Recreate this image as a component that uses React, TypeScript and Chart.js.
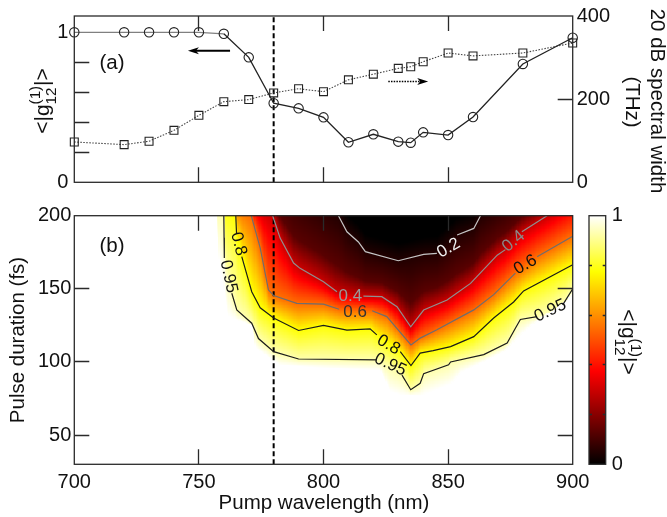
import React, { useEffect, useRef } from "react";
import { Chart, registerables } from "chart.js";

Chart.register(...registerables);

// ---------- Panel (a) ----------
const pumpNm = [700, 720, 730, 740, 750, 760, 770, 780, 790, 800, 810, 820, 830, 835, 840, 850, 860, 880, 900];
const coherence = [1, 1, 1, 1, 1, 0.99, 0.833, 0.527, 0.493, 0.433, 0.267, 0.32, 0.271, 0.264, 0.333, 0.315, 0.435, 0.789, 0.964];
const widthTHz = [97, 90.6, 98.8, 125, 161, 194, 199, 215, 225, 218, 246.5, 260, 274, 278, 290, 311, 304, 311, 335];

// ---------- Panel (b) contours: wavelength / duration, null = label gap ----------
const c020W = [806, 809.4, 814, 816.8, 830, 840.2, 845.5, null, 853.6, 860.3, 863];
const c020D = [200, 189, 182, 175.4, 169.2, 173.5, 174.2, null, 186.8, 191.3, 200];
const c040W = [779.6, 782.6, 788, 790.6, 800, 805.4, null, 816, 823.4, 829.5, 835, 840.2, 849.6, 859, 869.7, 873, null, 879.6, 889.7];
const c040D = [200, 184.7, 167.6, 164, 154.9, 148, null, 145, 144.6, 137.8, 124, 135.5, 142.3, 153.7, 173, 176.8, null, 189, 200];
const c060W = [771, 774.6, 777.9, 780, 789.3, 800, 806.3, null, 819.5, 825.4, 835.1, 838.8, 845.5, 860.3, 868.3, 877, null, 885.7, 900];
const c060D = [200, 178, 149.3, 145.4, 140, 139.5, 136, null, 135, 131, 111.6, 116.3, 122, 135.6, 146, 160.7, null, 172, 186];
const c080W = [764.8, 765.1, null, 767.2, 771.2, 774.6, 780, 790, 800, 809.4, 818.7, 821.4, null, 830.8, 835.1, 838.8, 844, 851, 860.3, 868.3, 876.3, 880.3, 900];
const c080D = [200, 188, null, 172, 148, 137, 130, 121.5, 125, 121.7, 122.6, 118.5, null, 107, 97.5, 106, 107.7, 110.5, 117.3, 130, 141, 148.6, 166.4];
const c095W = [760, 760.1, 760.2, null, 763.2, 765.2, 771.2, 773.9, 780, 790, 821.4, null, 831.5, 835, 838.8, 840.2, 850.2, 851, 864.3, 873.7, 877, 879, 885.7, null, 896, 900];
const c095D = [200, 185, 171, null, 147, 135.6, 126.5, 116, 107, 102, 101.4, null, 91, 81, 85.4, 92, 98, 100, 105, 113, 123, 129, 131, null, 139, 150];
const edgeW = [757, 758, 761.7, 771.6, 772.6, 782.6, 802.7, 822.7, 826.8, 830.8, 838.8, 851, 855, 872, 883, 900];
const edgeD = [200, 170, 131, 125, 110, 98, 96, 94.5, 80, 77.5, 77, 85, 93, 107, 125, 146];

const contourNames = ["0.2", "0.4", "0.6", "0.8", "0.95"];
const contourColors = ["#c4c4c4", "#8f8f8f", "#6e6e6e", "#1c1c1c", "#1c1c1c"];
const fillLevels = [1, 0.93, 0.78, 0.55, 0.3, 0.13, 0.05, 0];

const colorPos = [0, 0.375, 0.775, 1];
const colorR = [0, 255, 255, 255];
const colorG = [0, 0, 255, 255];
const colorB = [0, 0, 0, 255];

const barTicks = [0, 0.2, 0.4, 0.6, 0.8, 1];
const wavelengthMarks = [750, 800, 850];
const durationTicks = [50, 100, 150, 200];
const durationMarks = [50, 100, 150];
const widthMarks = [200];
const coherenceMarks = [0.2, 0.4, 0.6, 0.8];

const FONT = '"Liberation Sans"';
const INK = "#2a2a2a";

Chart.defaults.font.family = FONT;

const zip = (w: any[], d: any[]) => w.map((v, i) => ({ x: v ?? NaN, y: d[i] ?? NaN }));

function contourAt(W: any[], D: any[], w: number) {
  const xs: number[] = [];
  const ys: number[] = [];
  W.forEach((v, i) => {
    if (v !== null) {
      xs.push(v);
      ys.push(D[i]);
    }
  });
  if (w <= xs[0]) return ys[0] + (xs[0] - w) * 1.2;
  const n = xs.length - 1;
  if (w >= xs[n]) return ys[n] + (w - xs[n]) * 1.2;
  for (let i = 0; i < n; i++) {
    if (w <= xs[i + 1]) {
      const t = (w - xs[i]) / (xs[i + 1] - xs[i]);
      return ys[i] + t * (ys[i + 1] - ys[i]);
    }
  }
  return ys[n];
}

function colorOf(v: number) {
  let i = 0;
  while (i < colorPos.length - 2 && v > colorPos[i + 1]) i++;
  const t = Math.min(1, Math.max(0, (v - colorPos[i]) / (colorPos[i + 1] - colorPos[i])));
  const m = (a: number[]) => Math.round(a[i] + t * (a[i + 1] - a[i]));
  return `rgb(${m(colorR)},${m(colorG)},${m(colorB)})`;
}

const heatPlugin = {
  id: "heat",
  beforeDatasetsDraw(chart: any) {
    const { ctx, scales } = chart;
    const xs = scales.x;
    const ys = scales.y;
    ctx.save();
    for (let w = 700; w < 900; w += 0.5) {
      const px0 = Math.floor(xs.getPixelForValue(w));
      const px1 = Math.ceil(xs.getPixelForValue(w + 0.5));
      const d40 = contourAt(c040W, c040D, w);
      const d20 = contourAt(c020W, c020D, w);
      const lv = [
        contourAt(edgeW, edgeD, w),
        contourAt(c095W, c095D, w),
        contourAt(c080W, c080D, w),
        contourAt(c060W, c060D, w),
        d40,
        d40 + 0.35 * (d20 - d40),
        d20,
        d20 + 12,
      ];
      for (let k = 1; k < lv.length; k++) lv[k] = Math.max(lv[k], lv[k - 1] + 0.01);
      const last = lv.length - 1;
      for (let d = 30; d < 200; d += 0.5) {
        const dm = d + 0.25;
        let v = 1;
        if (dm >= lv[last]) v = 0;
        else if (dm > lv[0]) {
          let k = 0;
          while (dm > lv[k + 1]) k++;
          v = fillLevels[k] + ((dm - lv[k]) / (lv[k + 1] - lv[k])) * (fillLevels[k + 1] - fillLevels[k]);
        }
        if (v >= 0.999) continue;
        const py1 = Math.ceil(ys.getPixelForValue(d));
        const py0 = Math.floor(ys.getPixelForValue(d + 0.5));
        ctx.fillStyle = colorOf(v);
        ctx.fillRect(px0, py0, px1 - px0, py1 - py0);
      }
    }
    ctx.restore();
  },
};

const snap = (v: number) => Math.round(v - 0.5) + 0.5;

function frame(chart: any, opts: { xScale?: any; xVals?: number[]; left?: any; leftVals?: number[]; right?: any; rightVals?: number[]; len?: number }) {
  const { ctx, chartArea: a } = chart;
  const len = opts.len ?? 15;
  ctx.save();
  ctx.strokeStyle = INK;
  ctx.lineWidth = 1.3;
  ctx.strokeRect(a.left, a.top, a.right - a.left, a.bottom - a.top);
  ctx.beginPath();
  for (const v of opts.xVals ?? []) {
    const x = snap(opts.xScale.getPixelForValue(v));
    ctx.moveTo(x, a.bottom);
    ctx.lineTo(x, a.bottom - len);
    ctx.moveTo(x, a.top);
    ctx.lineTo(x, a.top + len);
  }
  for (const v of opts.leftVals ?? []) {
    const y = snap(opts.left.getPixelForValue(v));
    ctx.moveTo(a.left, y);
    ctx.lineTo(a.left + len, y);
  }
  for (const v of opts.rightVals ?? []) {
    const y = snap(opts.right.getPixelForValue(v));
    ctx.moveTo(a.right, y);
    ctx.lineTo(a.right - len, y);
  }
  ctx.stroke();
  ctx.restore();
}

function text(ctx: any, s: string, x: number, y: number, size: number, rot = 0, color = "#111") {
  ctx.save();
  ctx.translate(x, y);
  ctx.rotate((rot * Math.PI) / 180);
  ctx.font = `${size}px ${FONT}`;
  ctx.fillStyle = color;
  ctx.textAlign = "center";
  ctx.textBaseline = "middle";
  ctx.fillText(s, 0, 0);
  ctx.restore();
}

function g12(ctx: any, x: number, y: number, rot: number, size: number) {
  ctx.save();
  ctx.translate(x, y);
  ctx.rotate((rot * Math.PI) / 180);
  ctx.fillStyle = "#111";
  ctx.textBaseline = "alphabetic";
  ctx.textAlign = "left";
  const small = size * 0.72;
  ctx.font = `${size}px ${FONT}`;
  const a = ctx.measureText("<|g").width;
  const c = ctx.measureText("|>").width;
  ctx.font = `${small}px ${FONT}`;
  const b = Math.max(ctx.measureText("12").width, ctx.measureText("(1)").width);
  let cx = -(a + b + c) / 2;
  ctx.font = `${size}px ${FONT}`;
  ctx.fillText("<|g", cx, 0);
  cx += a;
  ctx.font = `${small}px ${FONT}`;
  ctx.fillText("(1)", cx, -size * 0.42);
  ctx.fillText("12", cx, size * 0.32);
  cx += b;
  ctx.font = `${size}px ${FONT}`;
  ctx.fillText("|>", cx, 0);
  ctx.restore();
}

function arrow(ctx: any, x0: number, x1: number, y: number, dashed: boolean) {
  const dir = Math.sign(x1 - x0);
  ctx.save();
  ctx.strokeStyle = "#000";
  ctx.fillStyle = "#000";
  ctx.lineWidth = dashed ? 1.6 : 1.8;
  if (dashed) ctx.setLineDash([1.5, 1.2]);
  ctx.beginPath();
  ctx.moveTo(x0, y);
  ctx.lineTo(x1 - dir * 6, y);
  ctx.stroke();
  ctx.setLineDash([]);
  ctx.beginPath();
  ctx.moveTo(x1, y);
  ctx.lineTo(x1 - dir * 11, y - 3.6);
  ctx.lineTo(x1 - dir * 8, y);
  ctx.lineTo(x1 - dir * 11, y + 3.6);
  ctx.closePath();
  ctx.fill();
  ctx.restore();
}

const topOverlay = {
  id: "topOverlay",
  afterDatasetsDraw(chart: any) {
    const { ctx, scales } = chart;
    frame(chart, { xScale: scales.x, xVals: wavelengthMarks, left: scales.yL, leftVals: coherenceMarks, right: scales.yR, rightVals: widthMarks });
    arrow(ctx, scales.x.getPixelForValue(762.5), scales.x.getPixelForValue(745.6), scales.yL.getPixelForValue(0.877), false);
    arrow(ctx, scales.x.getPixelForValue(826), scales.x.getPixelForValue(842), scales.yR.getPixelForValue(242.4), true);
    text(ctx, "(a)", 112, 63, 20.5);
    g12(ctx, 49, 101, -90, 21);
    text(ctx, "20 dB spectral width", 657, 101, 20.5, 90);
    text(ctx, "(THz)", 632, 102, 20.5, 90);
  },
};

const labelWs = [850.2, 810.8, 876.3, 812.7, 881, 765.9, 826.1, 761.9, 826.8, 891];
const labelDs = [177.9, 144.7, 182.4, 134, 166.4, 180.6, 111.6, 158.4, 98, 135];
const labelAngles = [-30, 0, -40, 0, -30, 75, 30, 78, 25, -25];
const labelTexts = ["0.2", "0.4", "0.4", "0.6", "0.6", "0.8", "0.8", "0.95", "0.95", "0.95"];
const labelInks = ["#f0f0f0", "#9a9a9a", "#8a8a8a", "#333", "#111", "#111", "#111", "#111", "#111", "#111"];

const bottomOverlay = {
  id: "bottomOverlay",
  afterDatasetsDraw(chart: any) {
    const { ctx, scales } = chart;
    frame(chart, { xScale: scales.x, xVals: wavelengthMarks, left: scales.y, leftVals: durationMarks, right: scales.y, rightVals: durationMarks });
    labelTexts.forEach((t, i) => {
      text(ctx, t, scales.x.getPixelForValue(labelWs[i]), scales.y.getPixelForValue(labelDs[i]), 17, labelAngles[i], labelInks[i]);
    });
    text(ctx, "(b)", 112, 246, 20.5);
    text(ctx, "Pulse duration (fs)", 18, 340, 20.5, -90);
    text(ctx, "Pump wavelength (nm)", 324, 503, 20.5);
  },
};

const barOverlay = {
  id: "barOverlay",
  beforeDatasetsDraw(chart: any) {
    const { ctx, chartArea: a, scales } = chart;
    const g = ctx.createLinearGradient(0, scales.y.getPixelForValue(0), 0, scales.y.getPixelForValue(1));
    colorPos.forEach((p) => g.addColorStop(p, colorOf(p)));
    ctx.fillStyle = g;
    ctx.fillRect(a.left, a.top, a.right - a.left, a.bottom - a.top);
  },
  afterDatasetsDraw(chart: any) {
    const { ctx, scales } = chart;
    frame(chart, { left: scales.y, leftVals: coherenceMarks, right: scales.y, rightVals: coherenceMarks, len: 3 });
    g12(ctx, 622, 342, 90, 21);
  },
};

function axisFit(size: number, horizontal: boolean) {
  return (s: any) => {
    if (horizontal) s.height = size;
    else {
      s.width = size;
      s.paddingTop = 0;
      s.paddingBottom = 0;
    }
  };
}

const tickFont = { size: 20 };

export default function App() {
  const topRef = useRef<HTMLCanvasElement>(null);
  const botRef = useRef<HTMLCanvasElement>(null);
  const barRef = useRef<HTMLCanvasElement>(null);

  useEffect(() => {
    const hidden = { grid: { display: false, drawTicks: false }, border: { display: false } };
    const top = new Chart(topRef.current as any, {
      type: "scatter",
      data: {
        datasets: [
          {
            data: zip(pumpNm, coherence),
            yAxisID: "yL",
            showLine: true,
            borderColor: "#222",
            borderWidth: 1.3,
            pointStyle: "circle",
            pointRadius: 4.7,
            pointBackgroundColor: "transparent",
            pointBorderColor: "#222",
            pointBorderWidth: 1.1,
            clip: false,
            segment: { borderColor: (c: any) => (c.p0.parsed.x < 760 ? "#808080" : "#222") },
          },
          {
            data: zip(pumpNm, widthTHz),
            yAxisID: "yR",
            showLine: true,
            borderColor: "#444",
            borderWidth: 1.1,
            borderDash: [1.5, 1.5],
            pointStyle: "rect",
            pointRadius: 5.6,
            pointBackgroundColor: "transparent",
            pointBorderColor: "#222",
            pointBorderWidth: 1.1,
            clip: false,
          },
          {
            data: [{ x: 780, y: 0 }, { x: 780, y: 1.1087 }],
            yAxisID: "yL",
            showLine: true,
            borderColor: "#000",
            borderWidth: 2,
            borderDash: [5, 3],
            pointRadius: 0,
          },
        ],
      },
      options: {
        responsive: false,
        animation: false,
        layout: { padding: { top: 16 } },
        plugins: { legend: { display: false }, tooltip: { enabled: false } },
        events: [],
        scales: {
          x: {
            type: "linear",
            min: 700,
            max: 900,
            ...hidden,
            ticks: { stepSize: 50, display: false },
            afterFit: axisFit(517 - 182.3, true),
          },
          yL: {
            type: "linear",
            position: "left",
            min: 0,
            max: 1.1087,
            ...hidden,
            afterBuildTicks: (s: any) => {
              s.ticks = barTicks.map((value) => ({ value }));
            },
            ticks: {
              font: tickFont,
              color: "#111",
              padding: 6,
              autoSkip: false,
              callback: (v: any) => (v === 0 || v === 1 ? String(v) : ""),
            },
            afterFit: axisFit(74.3, false),
          },
          yR: {
            type: "linear",
            position: "right",
            min: 0,
            max: 400,
            ...hidden,
            ticks: { stepSize: 200, font: tickFont, color: "#111", padding: 4 },
            afterFit: axisFit(667 - 572.7, false),
          },
        },
      } as any,
      plugins: [topOverlay],
    } as any);

    const contourSets = [
      [c020W, c020D],
      [c040W, c040D],
      [c060W, c060D],
      [c080W, c080D],
      [c095W, c095D],
    ].map((pair, i) => ({
      label: contourNames[i],
      data: zip(pair[0], pair[1]),
      showLine: true,
      spanGaps: false,
      borderColor: contourColors[i],
      borderWidth: 1.2,
      pointRadius: 0,
    }));

    const bot = new Chart(botRef.current as any, {
      type: "scatter",
      data: {
        datasets: [
          ...contourSets,
          {
            label: "pump",
            data: [{ x: 780, y: 30 }, { x: 780, y: 200 }],
            showLine: true,
            borderColor: "#000",
            borderWidth: 2,
            borderDash: [5, 3],
            pointRadius: 0,
          },
        ],
      },
      options: {
        responsive: false,
        animation: false,
        layout: { padding: { top: 215.7, right: 667 - 572.7 } },
        plugins: { legend: { display: false }, tooltip: { enabled: false } },
        events: [],
        scales: {
          x: {
            type: "linear",
            min: 700,
            max: 900,
            ...hidden,
            ticks: { stepSize: 50, font: tickFont, color: "#111", padding: 6, maxRotation: 0 },
            afterFit: axisFit(517 - 464.3, true),
          },
          y: {
            type: "linear",
            position: "left",
            min: 30,
            max: 200,
            ...hidden,
            afterBuildTicks: (s: any) => {
              s.ticks = durationTicks.map((value) => ({ value }));
            },
            ticks: { font: tickFont, color: "#111", padding: 3 },
            afterFit: axisFit(74.3, false),
          },
        },
      } as any,
      plugins: [heatPlugin, bottomOverlay],
    } as any);

    const bar = new Chart(barRef.current as any, {
      type: "scatter",
      data: { datasets: [{ data: [], pointRadius: 0 }] },
      options: {
        responsive: false,
        animation: false,
        layout: { padding: { top: 215.7, left: 589, bottom: 517 - 464.3 } },
        plugins: { legend: { display: false }, tooltip: { enabled: false } },
        events: [],
        scales: {
          x: { type: "linear", display: false, min: 0, max: 1 },
          y: {
            type: "linear",
            position: "right",
            min: 0,
            max: 1,
            ...hidden,
            afterBuildTicks: (s: any) => {
              s.ticks = barTicks.map((value) => ({ value }));
            },
            ticks: {
              font: tickFont,
              color: "#111",
              padding: 6,
              autoSkip: false,
              callback: (v: any) => (v === 0 || v === 1 ? String(v) : ""),
            },
            afterFit: axisFit(667 - 605.7, false),
          },
        },
      } as any,
      plugins: [barOverlay],
    } as any);

    return () => {
      top.destroy();
      bot.destroy();
      bar.destroy();
    };
  }, []);

  const css: React.CSSProperties = { position: "absolute", left: 0, top: 0 };
  return (
    <div style={{ position: "absolute", left: 0, top: 0, width: 667, height: 517, background: "#fff", overflow: "hidden" }}>
      <canvas ref={topRef} width={667} height={517} style={css} />
      <canvas ref={botRef} width={667} height={517} style={css} />
      <canvas ref={barRef} width={667} height={517} style={css} />
    </div>
  );
}
